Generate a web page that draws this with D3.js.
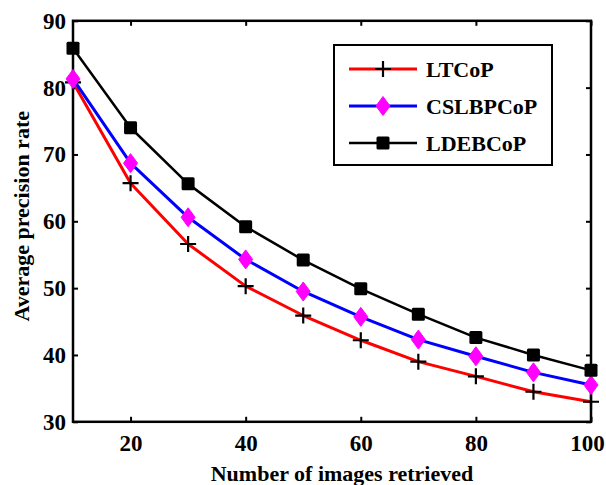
<!DOCTYPE html>
<html lang="en">
<head>
<meta charset="UTF-8">
<title>Average precision rate</title>
<script src="https://d3js.org/d3.v7.min.js"></script>
<style>
    body { margin: 0; background: #fff; }
    svg text { font-family: "Liberation Serif", "Times New Roman", serif; font-weight: bold; fill: #000; }
</style>
</head>
<body>
<svg width="606" height="485"></svg>
<script>
    // data
    const retrieved = [10, 20, 30, 40, 50, 60, 70, 80, 90, 100];
    const ltcop = [80.8, 65.7, 56.6, 50.3, 45.9, 42.2, 39.0, 36.8, 34.5, 33.0];
    const cslbpcop = [81.3, 68.7, 60.6, 54.3, 49.5, 45.7, 42.3, 39.8, 37.4, 35.5];
    const ldebcop = [85.9, 74.0, 65.6, 59.2, 54.2, 49.9, 46.1, 42.6, 40.0, 37.7];
    const xTicks = [20, 40, 60, 80, 100];
    const yTicks = [30, 40, 50, 60, 70, 80, 90];

    const series = [
        { name: "LTCoP", values: ltcop, color: "#ff0000", marker: "plus", width: 3 },
        { name: "CSLBPCoP", values: cslbpcop, color: "#0000ff", marker: "diamond", width: 3 },
        { name: "LDEBCoP", values: ldebcop, color: "#000000", marker: "square", width: 2.5 }
    ];

    const svg = d3.select("svg");
    const plotL = 73, plotR = 591, plotT = 20.8, plotB = 421.8;

    const x = d3.scaleLinear().domain([10, 100]).range([plotL, plotR]);
    const y = d3.scaleLinear().domain([30, 90]).range([plotB, plotT]);

    // box with inward ticks on all sides (matlab style)
    const tickLen = 5;
    const axisStyle = g => {
        g.select(".domain").remove();
        g.selectAll("line").attr("stroke", "#000").attr("stroke-width", 2);
    };
    svg.append("g").attr("transform", `translate(0,${plotB})`)
        .call(d3.axisBottom(x).tickValues(xTicks).tickSize(-tickLen).tickPadding(13).tickFormat(d3.format("d")))
        .call(axisStyle)
        .selectAll("text").attr("font-size", 23)
        .attr("dx", d => d === 100 ? -4 : 0); // keep the last label inside the window
    svg.append("g").attr("transform", `translate(0,${plotT})`)
        .call(d3.axisTop(x).tickValues(xTicks).tickSize(-tickLen).tickFormat(""))
        .call(axisStyle);
    svg.append("g").attr("transform", `translate(${plotL},0)`)
        .call(d3.axisLeft(y).tickValues(yTicks).tickSize(-tickLen).tickPadding(7).tickFormat(d3.format("d")))
        .call(axisStyle)
        .selectAll("text").attr("font-size", 23);
    svg.append("g").attr("transform", `translate(${plotR},0)`)
        .call(d3.axisRight(y).tickValues(yTicks).tickSize(-tickLen).tickFormat(""))
        .call(axisStyle);
    svg.selectAll(".tick text").attr("font-family", "Liberation Serif").attr("font-weight", "bold");

    svg.append("rect")
        .attr("x", plotL).attr("y", plotT)
        .attr("width", plotR - plotL).attr("height", plotB - plotT)
        .attr("fill", "none").attr("stroke", "#000").attr("stroke-width", 2.5);

    // markers
    function drawMarker(g, type, cx, cy) {
        if (type === "plus") {
            g.append("path")
                .attr("d", `M${cx - 8},${cy}H${cx + 8}M${cx},${cy - 8}V${cy + 8}`)
                .attr("stroke", "#000").attr("stroke-width", 2.2).attr("fill", "none");
        } else if (type === "diamond") {
            g.append("path")
                .attr("d", `M${cx},${cy - 9.5}L${cx + 7},${cy}L${cx},${cy + 9.5}L${cx - 7},${cy}Z`)
                .attr("fill", "#ff00ff").attr("stroke", "#ff00ff").attr("stroke-width", 1);
        } else {
            g.append("rect")
                .attr("x", cx - 6.5).attr("y", cy - 6.5).attr("width", 13).attr("height", 13)
                .attr("rx", 1.5)
                .attr("fill", "#000");
        }
    }

    const line = d3.line().x((d, i) => x(retrieved[i])).y(d => y(d));
    const plot = svg.append("g");
    series.forEach(s => {
        plot.append("path")
            .datum(s.values)
            .attr("d", line)
            .attr("fill", "none")
            .attr("stroke", s.color)
            .attr("stroke-width", s.width)
            .attr("stroke-linejoin", "round");
    });
    series.forEach(s => {
        const g = plot.append("g");
        s.values.forEach((v, i) => drawMarker(g, s.marker, x(retrieved[i]), y(v)));
    });

    // legend
    const legend = svg.append("g");
    legend.append("rect")
        .attr("x", 334).attr("y", 45).attr("width", 218).attr("height", 120)
        .attr("fill", "#fff").attr("stroke", "#000").attr("stroke-width", 2);
    series.forEach((s, i) => {
        const ly = 69 + i * 37;
        legend.append("line")
            .attr("x1", 349).attr("x2", 417).attr("y1", ly).attr("y2", ly)
            .attr("stroke", s.color).attr("stroke-width", s.width);
        drawMarker(legend, s.marker, 383, ly);
        legend.append("text")
            .attr("x", 426).attr("y", ly).attr("dy", "0.35em")
            .attr("font-size", 22)
            .text(s.name);
    });

    // axis titles
    svg.append("text")
        .attr("x", (plotL + plotR) / 2 + 10).attr("y", 481)
        .attr("text-anchor", "middle").attr("font-size", 22)
        .text("Number of images retrieved");
    svg.append("text")
        .attr("transform", `translate(29,${(plotT + plotB) / 2 - 5}) rotate(-90)`)
        .attr("text-anchor", "middle").attr("font-size", 22)
        .text("Average precision rate");
</script>
</body>
</html>
